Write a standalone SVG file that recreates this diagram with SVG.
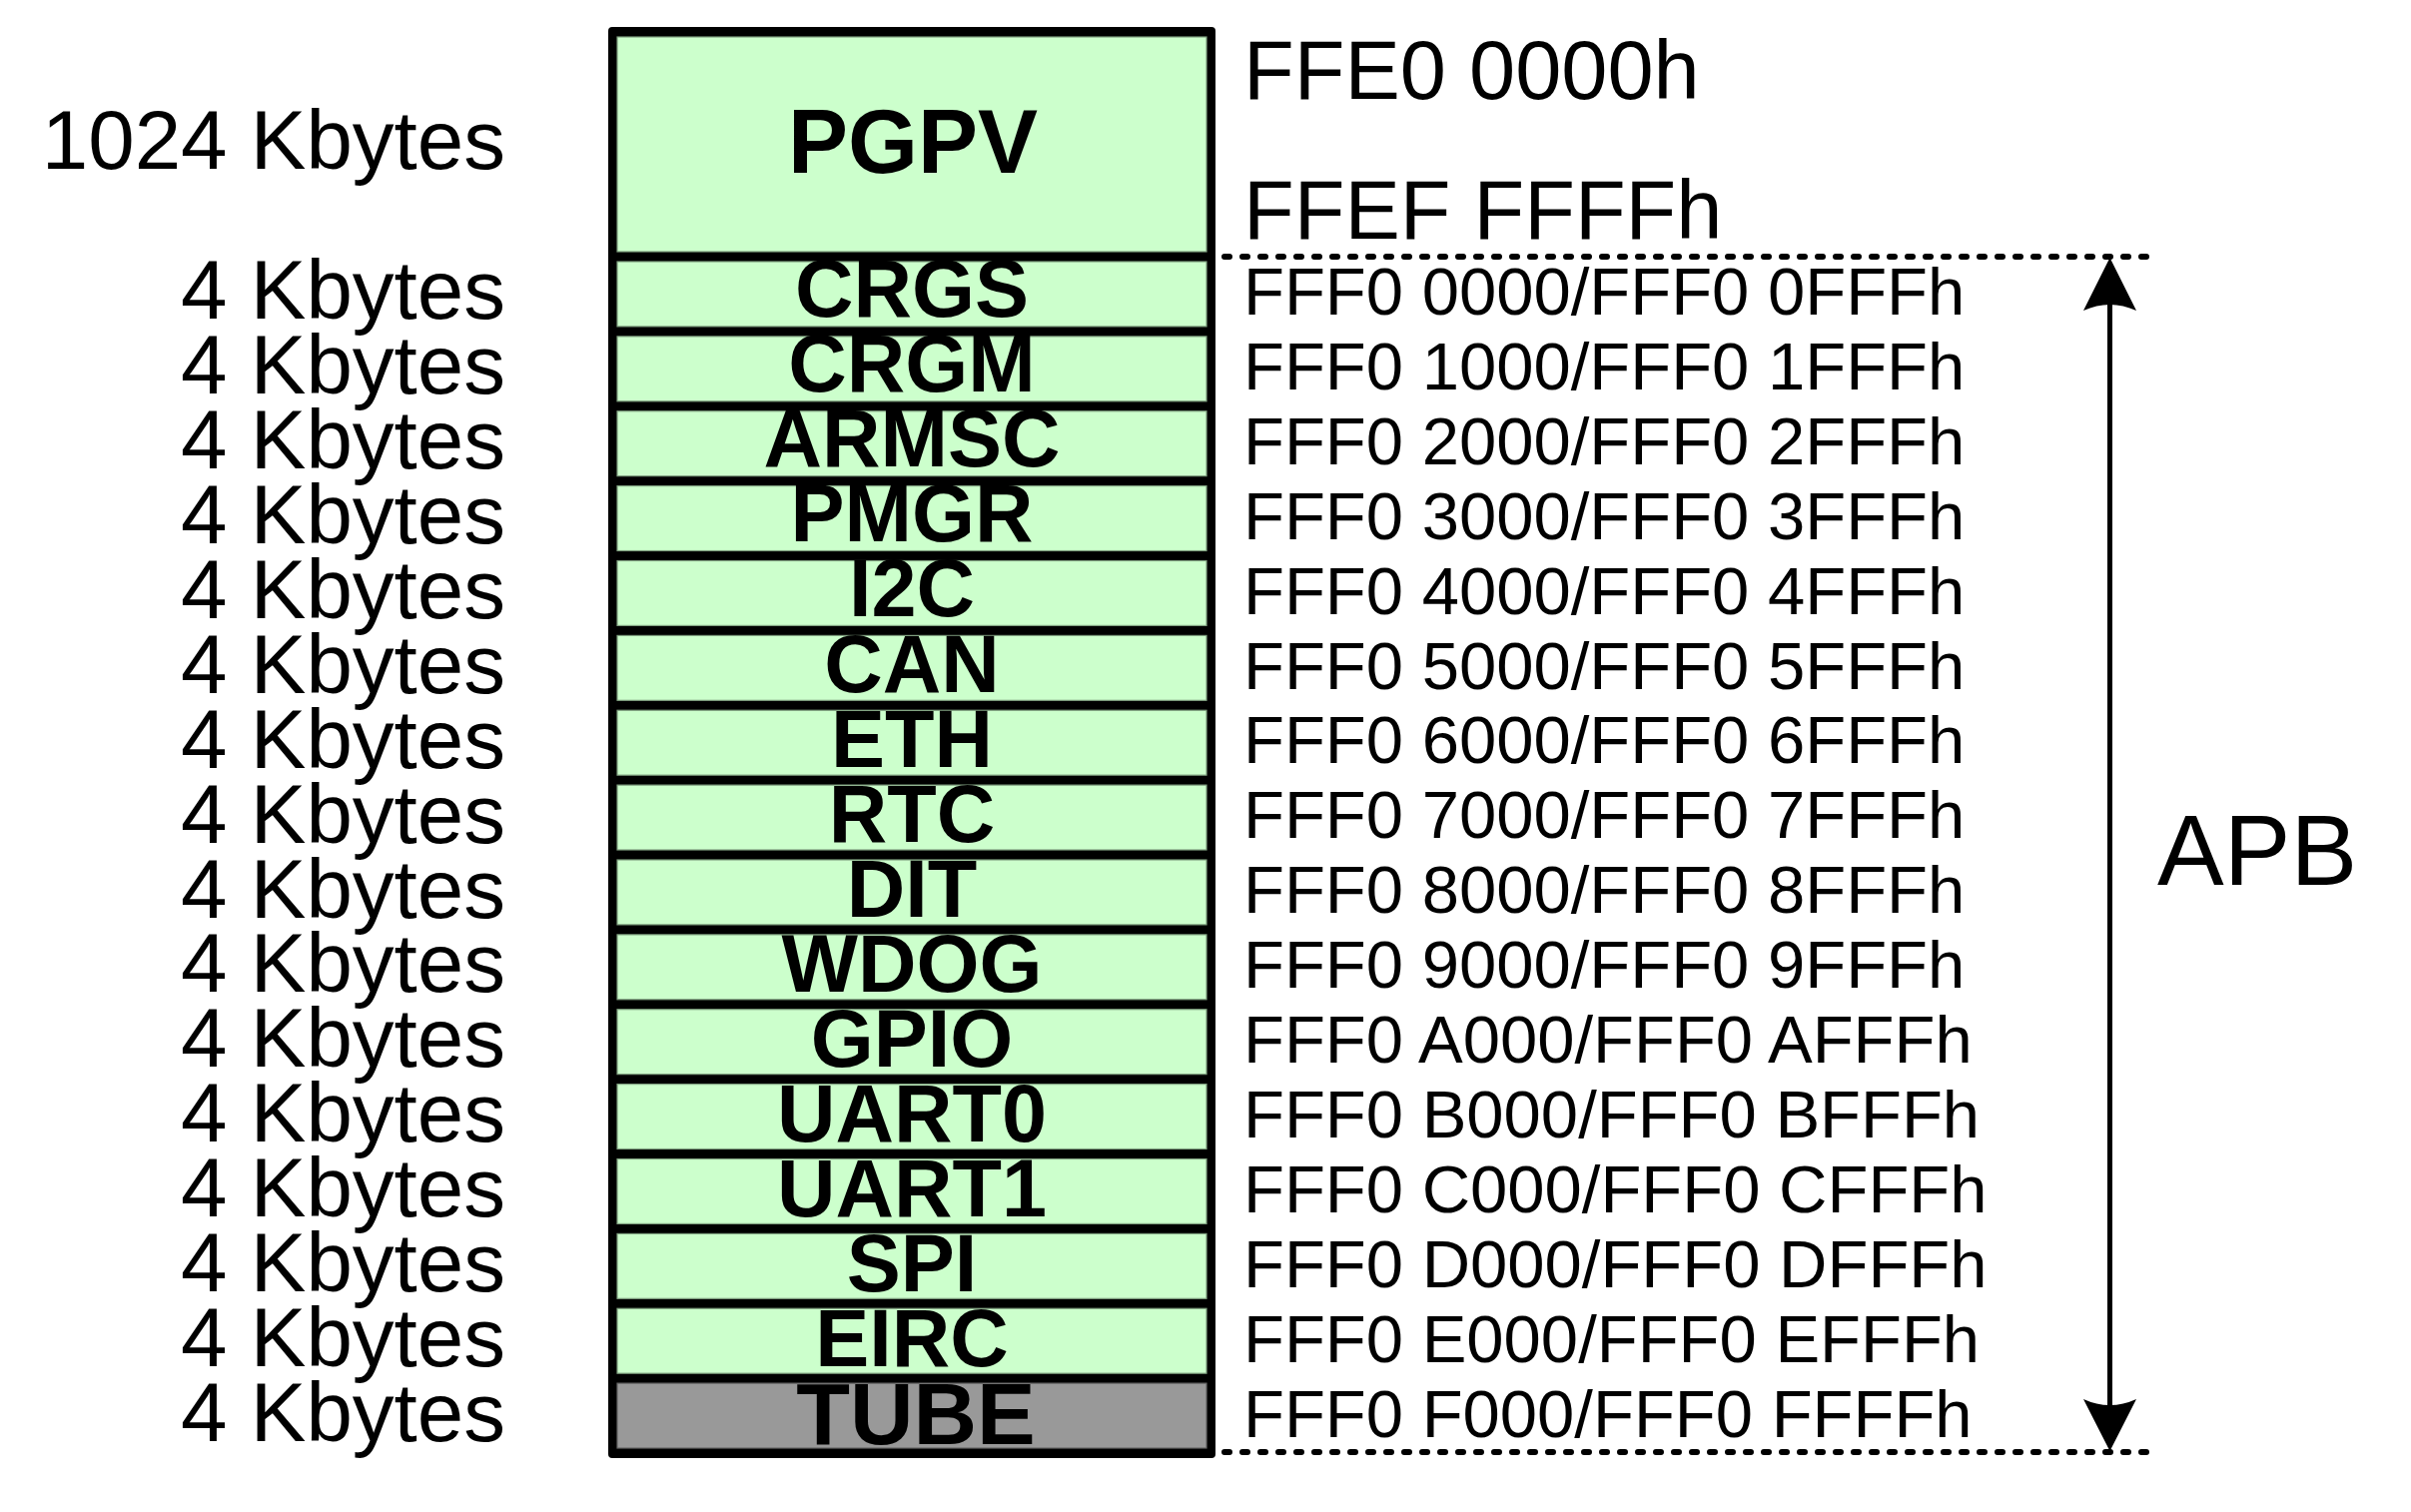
<svg xmlns="http://www.w3.org/2000/svg" width="2414" height="1514" viewBox="0 0 2414 1514">
<style>
.cell{fill:#CCFFCC;stroke:#7f9f7f;stroke-width:1.2}
.tube{fill:#999999;stroke:#666666;stroke-width:1.2}
.nm{font-family:"Liberation Sans",Arial,sans-serif;font-weight:bold;font-size:81px;text-anchor:middle;fill:#000}
.sz{font-family:"Liberation Sans",Arial,sans-serif;font-size:83.5px;text-anchor:end;fill:#000}
.ad{font-family:"Liberation Sans",Arial,sans-serif;font-size:67px;fill:#000}
.big{font-family:"Liberation Sans",Arial,sans-serif;font-size:83px;fill:#000}
.dot{stroke:#000;stroke-width:6;stroke-dasharray:5 13;stroke-linecap:round;fill:none}
</style>
<rect width="2414" height="1514" fill="#fff"/>
<rect id="frame" x="609" y="27" width="608" height="1433" rx="4" fill="#000"/>
<g id="PGPV"><rect class="cell" x="618" y="37" width="590" height="215"/><text class="nm" x="914" y="173" style="font-size:90px">PGPV</text><text class="sz" x="506" y="169">1024 Kbytes</text><text class="big" x="1245" y="99">FFE0 0000h</text><text class="big" x="1245" y="239">FFEF FFFFh</text></g>
<g id="CRGS"><rect class="cell" x="618" y="262" width="590" height="64.9"/><text class="nm" x="913" y="317">CRGS</text><text class="sz" x="506" y="319.3">4 Kbytes</text><text class="ad" x="1245" y="315">FFF0 0000/FFF0 0FFFh</text></g>
<g id="CRGM"><rect class="cell" x="618" y="336.9" width="590" height="64.9"/><text class="nm" x="913" y="392.1">CRGM</text><text class="sz" x="506" y="394.2">4 Kbytes</text><text class="ad" x="1245" y="389.9">FFF0 1000/FFF0 1FFFh</text></g>
<g id="ARMSC"><rect class="cell" x="618" y="411.75" width="590" height="64.9"/><text class="nm" x="913" y="467.2">ARMSC</text><text class="sz" x="506" y="469.1">4 Kbytes</text><text class="ad" x="1245" y="464.8">FFF0 2000/FFF0 2FFFh</text></g>
<g id="PMGR"><rect class="cell" x="618" y="486.6" width="590" height="64.9"/><text class="nm" x="913" y="542.3">PMGR</text><text class="sz" x="506" y="544">4 Kbytes</text><text class="ad" x="1245" y="539.7">FFF0 3000/FFF0 3FFFh</text></g>
<g id="I2C"><rect class="cell" x="618" y="561.5" width="590" height="64.9"/><text class="nm" x="913" y="617.4">I2C</text><text class="sz" x="506" y="618.9">4 Kbytes</text><text class="ad" x="1245" y="614.6">FFF0 4000/FFF0 4FFFh</text></g>
<g id="CAN"><rect class="cell" x="618" y="636.4" width="590" height="64.9"/><text class="nm" x="913" y="692.5">CAN</text><text class="sz" x="506" y="693.8">4 Kbytes</text><text class="ad" x="1245" y="689.5">FFF0 5000/FFF0 5FFFh</text></g>
<g id="ETH"><rect class="cell" x="618" y="711.25" width="590" height="64.9"/><text class="nm" x="913" y="767.6">ETH</text><text class="sz" x="506" y="768.7">4 Kbytes</text><text class="ad" x="1245" y="764.4">FFF0 6000/FFF0 6FFFh</text></g>
<g id="RTC"><rect class="cell" x="618" y="786.1" width="590" height="64.9"/><text class="nm" x="913" y="842.7">RTC</text><text class="sz" x="506" y="843.6">4 Kbytes</text><text class="ad" x="1245" y="839.3">FFF0 7000/FFF0 7FFFh</text></g>
<g id="DIT"><rect class="cell" x="618" y="861" width="590" height="64.9"/><text class="nm" x="913" y="917.8">DIT</text><text class="sz" x="506" y="918.5">4 Kbytes</text><text class="ad" x="1245" y="914.2">FFF0 8000/FFF0 8FFFh</text></g>
<g id="WDOG"><rect class="cell" x="618" y="935.9" width="590" height="64.9"/><text class="nm" x="913" y="992.9">WDOG</text><text class="sz" x="506" y="993.4">4 Kbytes</text><text class="ad" x="1245" y="989.1">FFF0 9000/FFF0 9FFFh</text></g>
<g id="GPIO"><rect class="cell" x="618" y="1010.75" width="590" height="64.9"/><text class="nm" x="913" y="1068">GPIO</text><text class="sz" x="506" y="1068.3">4 Kbytes</text><text class="ad" x="1245" y="1064">FFF0 A000/FFF0 AFFFh</text></g>
<g id="UART0"><rect class="cell" x="618" y="1085.6" width="590" height="64.9"/><text class="nm" x="913" y="1143.1">UART0</text><text class="sz" x="506" y="1143.2">4 Kbytes</text><text class="ad" x="1245" y="1138.9">FFF0 B000/FFF0 BFFFh</text></g>
<g id="UART1"><rect class="cell" x="618" y="1160.5" width="590" height="64.9"/><text class="nm" x="913" y="1218.2">UART1</text><text class="sz" x="506" y="1218.1">4 Kbytes</text><text class="ad" x="1245" y="1213.8">FFF0 C000/FFF0 CFFFh</text></g>
<g id="SPI"><rect class="cell" x="618" y="1235.4" width="590" height="64.9"/><text class="nm" x="913" y="1293.3">SPI</text><text class="sz" x="506" y="1293">4 Kbytes</text><text class="ad" x="1245" y="1288.7">FFF0 D000/FFF0 DFFFh</text></g>
<g id="EIRC"><rect class="cell" x="618" y="1310.25" width="590" height="64.9"/><text class="nm" x="913" y="1368.4">EIRC</text><text class="sz" x="506" y="1367.9">4 Kbytes</text><text class="ad" x="1245" y="1363.6">FFF0 E000/FFF0 EFFFh</text></g>
<g id="TUBE"><rect class="tube" x="618" y="1385.1" width="590" height="64.9"/><text class="nm" x="917" y="1446" style="font-size:88px">TUBE</text><text class="sz" x="506" y="1442.8">4 Kbytes</text><text class="ad" x="1245" y="1438.5">FFF0 F000/FFF0 FFFFh</text></g>
<g id="APB"><text x="2160" y="886" style="font-family:'Liberation Sans',Arial,sans-serif;font-size:100px">APB</text></g>
<g id="connectors">
<line class="dot" x1="1226" y1="257" x2="2150" y2="257"/>
<line class="dot" x1="1226" y1="1454" x2="2150" y2="1454"/>
<line x1="2112.5" y1="300" x2="2112.5" y2="1410" stroke="#000" stroke-width="5"/>
<path d="M2112.5,258 L2139,311 Q2112.5,299 2086,311 Z" fill="#000"/>
<path d="M2112.5,1453 L2139,1401 Q2112.5,1413 2086,1401 Z" fill="#000"/>
</g>
</svg>
